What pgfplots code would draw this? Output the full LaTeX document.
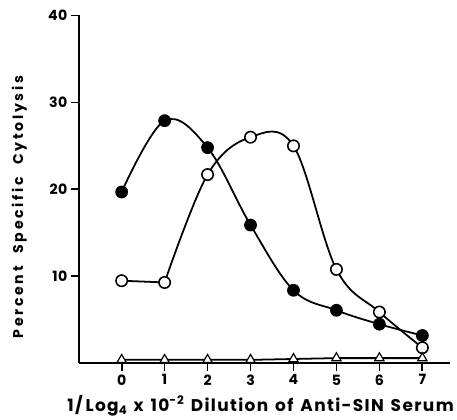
\documentclass[border=0pt]{standalone}
\usepackage{fontspec}
\setmainfont{Poppins}[BoldFont={Poppins Bold}]
\newfontfamily\lblfont{Poppins Bold}[LetterSpace=8, WordSpace=1.4]
\newfontfamily\ylblfont{Poppins Bold}[LetterSpace=19, WordSpace=2.2]
\newfontfamily\tickfont{Poppins Bold}[LetterSpace=4]
\usepackage{pgfplots}
\pgfplotsset{compat=1.18}

\pgfplotstableread{
x filled open tri
0 19.7 9.5 0.4
1 27.9 9.3 0.4
2 24.8 21.7 0.4
3 15.9 26.0 0.4
4 8.4 25.0 0.5
5 6.1 10.8 0.6
6 4.5 5.9 0.6
7 3.2 1.8 0.6
}\cytdata

\begin{document}
\begin{tikzpicture}
\begin{axis}[
    scale only axis,
    width=377bp, height=353bp,
    xmin=-1, xmax=7.65,
    ymin=0, ymax=40,
    axis x line*=bottom,
    axis y line*=left,
    axis line style={line width=1.8pt},
    xtick={0,...,7},
    ytick={10,20,30,40},
    tick align=outside,
    major tick length=8pt,
    tick style={line width=1.8pt, black},
    /pgf/number format/assume math mode=true,
    ticklabel style={font=\tickfont\Large},
    xlabel={\lblfont\LARGE 1/\,Log\raisebox{-3pt}{\large 4} x 10\raisebox{7pt}{\large -2} Dilution of Anti-SIN Serum},
    ylabel={\ylblfont\Large Percent Specific Cytolysis},
    xlabel style={yshift=-4pt, xshift=-4pt, inner ysep=3pt},
    ylabel style={yshift=6pt, xshift=-18pt, inner ysep=12pt},
    clip=false,
]
% filled circles
\addplot[black, line width=1.8pt, smooth, tension=0.6, mark=*, mark size=6pt,
    mark options={fill=black, line width=1pt}] table[x=x, y=filled] {\cytdata};
% open circles: flat between 0 and 1, smooth afterwards
\addplot[black, line width=1.8pt, mark=none, skip coords between index={2}{8}]
    table[x=x, y=open] {\cytdata};
\addplot[black, line width=1.8pt, smooth, tension=0.6, mark=none, skip coords between index={0}{1}]
    table[x=x, y=open] {\cytdata};
\addplot[only marks, mark=*, mark size=5.8pt,
    mark options={draw=black, fill=white, line width=1.6pt}] table[x=x, y=open] {\cytdata};
% triangles
\addplot[black, line width=1.8pt, mark=triangle*, mark size=5.5pt,
    mark options={fill=white, line width=1.2pt}] table[x=x, y=tri] {\cytdata};
\end{axis}
\path ([yshift=7pt]current bounding box.north);
\end{tikzpicture}
\end{document}
